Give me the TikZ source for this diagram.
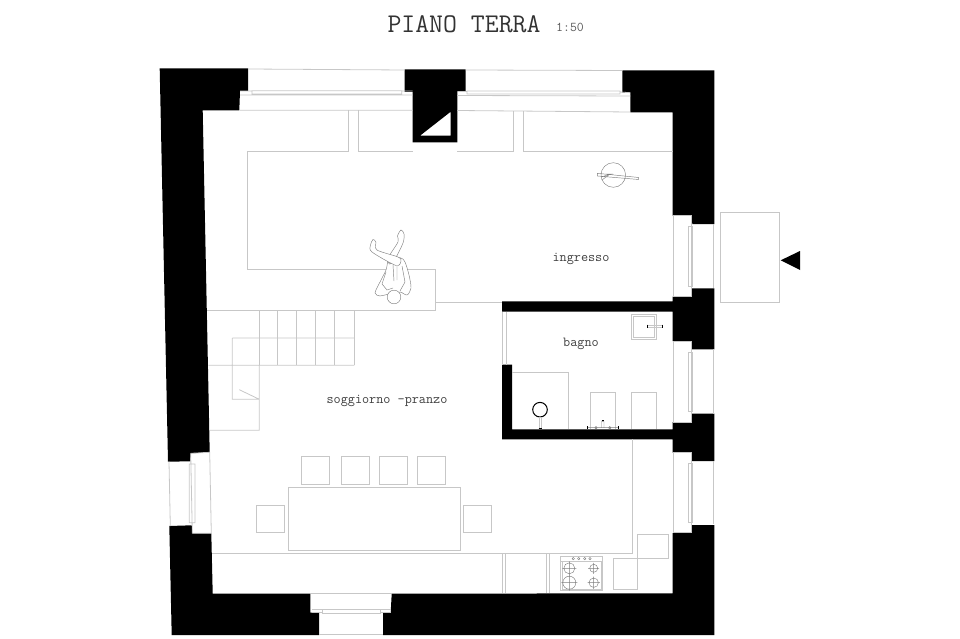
\documentclass[tikz,border=0pt]{standalone}
\usepackage{fontspec}
\definecolor{linegray}{gray}{0.78}
\tikzset{
  wall/.style={fill=black,draw=none},
  thinline/.style={draw=linegray,line width=0.8pt},
  fineline/.style={draw=black!50,line width=0.45pt},
  blackline/.style={draw=black,line width=1pt},
  roomlabel/.style={font=\ttfamily\fontsize{13.8}{14}\selectfont,text=black!75,inner sep=0pt},
}
\begin{document}
\begin{tikzpicture}[x=1pt,y=-1pt]
  \useasboundingbox (0,0) rectangle (960,639);

  % outer walls
  \fill[wall] (159.7,68.3) -- (248,68.3) -- (248,91) -- (240,91) -- (239.3,110.3)
    -- (202.7,110.3) -- (209.7,452.3) -- (190.7,453.3) -- (190.3,461.3) -- (168,461.7) -- cycle;
  \fill[wall] (169.3,526) -- (191.7,525.3) -- (192.3,533.3) -- (211.3,533.3) -- (212.7,593.7)
    -- (310.3,593.7) -- (310.3,612.7) -- (319,612.7) -- (319,635) -- (171.7,635) -- cycle;
  \fill[wall] (391.7,593.7) -- (672.7,593.3) -- (672.7,533) -- (692,532.7) -- (692,525)
    -- (714.3,525) -- (714.3,635) -- (383,635) -- (383,612.7) -- (390.7,612.7) -- cycle;
  \fill[wall] (622.3,70.3) -- (714.3,70.3) -- (714.3,224) -- (692.3,224) -- (691.7,215.7)
    -- (672.7,215.7) -- (672.7,112.3) -- (630.3,112.3) -- (630.3,92.7) -- (622.3,92.7) -- cycle;

  % flue with its opening
  \fill[wall,even odd rule] (404.7,69.3) -- (465.7,69.3) -- (465.7,92) -- (457.3,92) -- (457.3,142.3)
    -- (412.7,142.3) -- (412.7,92) -- (404.7,92) -- cycle
    (420,135.7) -- (450.7,135.7) -- (450.7,111.7) -- cycle;

  % pillars and inner walls
  \fill[wall] (692,288.3) -- (714.3,288.3) -- (714.3,349.3) -- (692,349.3) -- (692,341) -- (672.7,341)
    -- (672.7,311.7) -- (502,311.7) -- (502,301.3) -- (672.7,301.3) -- (672.7,296.7) -- (692,296.7) -- cycle;
  \fill[wall] (692,413.7) -- (714.3,413.7) -- (714.3,461) -- (692,461) -- (692,452.7) -- (672.7,452.7)
    -- (672.7,439.3) -- (502,439.3) -- (502,364.7) -- (512,364.7) -- (512,429.3) -- (672.7,429.3)
    -- (672.7,422) -- (692,422) -- cycle;

  % windows
  \draw[thinline] (248,69) -- (404.7,70) (240,110.3) -- (412.7,110.3) (240,95) -- (412.7,95)
    (240,91) -- (252,91) (252,90.7) rectangle (401.7,94) (401.7,91) -- (412.7,91);
  \draw[thinline] (465.7,70) -- (622.3,70.5) (457.3,110.5) -- (630.3,112) (457.3,95.5) -- (630.3,96)
    (457.3,91.5) -- (467,91.5) (467,91) rectangle (620,94) (620,92) -- (630.3,92.7);
  \foreach \ya/\yb in {215.7/296.5,341/422,452.7/532.7}{
    \draw[thinline] (673.3,\ya) -- (673.3,\yb) (691.7,\ya) -- (691.7,\yb)
      (673.3,\ya) -- (691.7,\ya) (673.3,\yb) -- (691.7,\yb)
      (713.3,\ya+8.3) -- (713.3,\yb-8.3)
      (688.3,\ya+11) rectangle (692.3,\yb-10.5);
  }
  \draw[thinline] (169,461.7) -- (170.3,526) (190.7,453.3) -- (209.7,452.3) -- (211.3,533.3) -- (192.3,533.3)
    (190.7,453.3) -- (192.3,533.3) (189.3,464) rectangle (195,522.7);
  \draw[thinline] (310.3,593.7) -- (391.7,593.7) (311.5,609) -- (390.7,609) (322.3,609) rectangle (380,613)
    (311.5,612.7) -- (322.3,612.7) (380,612.7) -- (390.7,612.7) (319,634.3) -- (383,634.3);

  % built-in cupboards and raised floor
  \draw[thinline] (348.7,110.3) -- (348.7,151.3) -- (247.3,151.3) -- (247.3,269.3) -- (435.7,269.3)
    -- (435.7,310.3) -- (206.7,310.3) (435.7,302.3) -- (502,302.3);
  \draw[thinline] (358.3,110.3) -- (358.3,151.3) -- (412.7,151.3) (457.3,151.3) -- (513.3,151.3) -- (513.3,110.8)
    (523.3,110.8) -- (523.3,151.3) -- (672.7,151.3);

  % stairs
  \foreach \x in {259.3,277.3,296.3,315.3,334.3,354.3}{
    \draw[thinline] (\x,310.3) -- (\x,365.3);
  }
  \draw[thinline] (232.3,338) -- (354.3,338) (208.3,365.3) -- (354.3,365.3)
    (232.3,338) -- (232.3,399.3) -- (259.3,399.3) (259.3,365.3) -- (259.3,430.3) -- (209.3,430.3)
    (239.3,389.7) -- (259.3,399.3);

  % table and chairs
  \draw[thinline] (288.3,487.7) rectangle (460.3,550);
  \foreach \x in {301.3,341.3,379.3,417.3}{
    \draw[thinline] (\x,456.7) rectangle +(28,27.6);
  }
  \foreach \x in {256.7,463.3}{
    \draw[thinline] (\x,505) rectangle +(28,27.7);
  }

  % kitchen
  \draw[thinline] (212,553.3) -- (632.3,553.3) -- (632.3,439.3);
  \foreach \x in {502.7,505.7,546.7,549.3}{
    \draw[thinline] (\x,553.3) -- (\x,593.3);
  }
  \draw[thinline] (637.3,534.3) rectangle (668.3,558.7) (613.3,558.7) rectangle (637.3,589);
  \draw[thinline] (560.3,556.3) rectangle (602.7,590.7) (560.3,561) -- (602.7,561)
    (562,561) rectangle (601.3,589.3);
  \foreach \x in {573.3,578.7,584.7,590}{
    \draw[fineline] (\x,558.6) circle (1.2pt);
  }
  \foreach \x/\y/\r in {569.3/568.3/5.5,593.7/568.3/4,569.3/582.7/6.5,593.7/582.7/4.7}{
    \draw[fineline] (\x,\y) circle (\r pt) (\x-\r-1.5,\y) -- (\x+\r+1.5,\y) (\x,\y-\r-1.5) -- (\x,\y+\r+1.5);
  }

  % bathroom
  \draw[thinline] (502.7,311.7) -- (502.7,364.7) (506,311.7) -- (506,364.7);
  \draw[thinline] (631.3,314) rectangle (656.7,339.3) (633.3,316) rectangle (654.7,337.3);
  \draw[thinline] (647.7,325) rectangle (662,327);
  \draw[black,line width=1pt] (647.3,324.5) -- (647.3,327.5) (662.2,324.5) -- (662.2,327.5);
  \draw[thinline] (512,372.3) -- (568.7,372.3) -- (568.7,429.3);
  \draw[blackline] (540,409.7) circle (7.3pt);
  \draw[thinline] (539,417) rectangle (541,428.5);
  \draw[black,line width=0.8pt] (538.5,428.3) -- (541.5,428.3);
  \draw[thinline] (590.3,429.3) -- (590.3,392.3) -- (615.7,392.3) -- (615.7,429.3);
  \draw[thinline] (631.3,429.3) -- (631.3,392.3) -- (656.7,392.3) -- (656.7,429.3);
  \draw[fineline] (587.3,427.7) -- (618.7,427.7) (596,427.7) circle (1.3pt) (609.7,427.7) circle (1.3pt)
    (601.5,421.7) rectangle (604,427.7);
  \draw[black,line width=0.8pt] (587.3,426) -- (587.3,429) (618.7,426) -- (618.7,429) (601.5,420.8) -- (603.9,420.8);

  % rotating stair post
  \draw[fineline] (613.3,175) circle (12.3pt);
  \draw[fineline] (597.3,173.3) -- (638.7,177.5) -- (638.7,179.5) -- (597.3,176) -- cycle
    (601.5,174) -- (613,174) (601.5,177) -- (610,174) (602,180) -- (610,174);

  % figure
  \begin{scope}[fineline]
    \filldraw[fill=white] plot[smooth cycle,tension=0.5] coordinates {(375,293) (380,296) (387,294.5) (394,296)
      (400,292) (407,295) (411,288) (409,275) (405,262) (401,258) (392,258) (388,261) (386,270) (380,282)};
    \filldraw[fill=white] plot[smooth cycle,tension=0.5] coordinates {(401,230) (397.5,236) (398,242)
      (388,258) (389.5,264) (395,259) (403,243) (404,234)};
    \filldraw[fill=white] plot[smooth cycle,tension=0.5] coordinates {(373,239.5) (370.5,245) (372,252)
      (396,265.5) (401,261) (398,257) (377,250) (375.8,242)};
    \filldraw[fill=white] (394,297) circle (6.8pt);
    \draw (393,265) -- (394,281) (397,265) -- (397,280);
    \draw (386,272) -- (382,284) -- (387,290) -- (393,288);
    \draw (402,266) -- (405,282) -- (400,291);
  \end{scope}

  % porch
  \draw[thinline] (720.3,212) rectangle (779,302.3);
  \fill[wall] (780.7,260.3) -- (800,251) -- (800,270) -- cycle;

  % labels
  \node[font=\ttfamily\fontsize{27}{28}\selectfont,inner sep=0pt,text=black!80] (title) at (464,24) {PIANO TERRA};
  \node[font=\ttfamily\fontsize{13.4}{14}\selectfont,inner sep=0pt,text=black!65] (scalenote) at (570,27) {1:50};
  \node[roomlabel] (ingresso) at (581,258.5) {ingresso};
  \node[roomlabel] (bagno) at (581,344) {bagno};
  \node[roomlabel] (soggiorno) at (387,400.5) {soggiorno -pranzo};
\end{tikzpicture}
\end{document}
